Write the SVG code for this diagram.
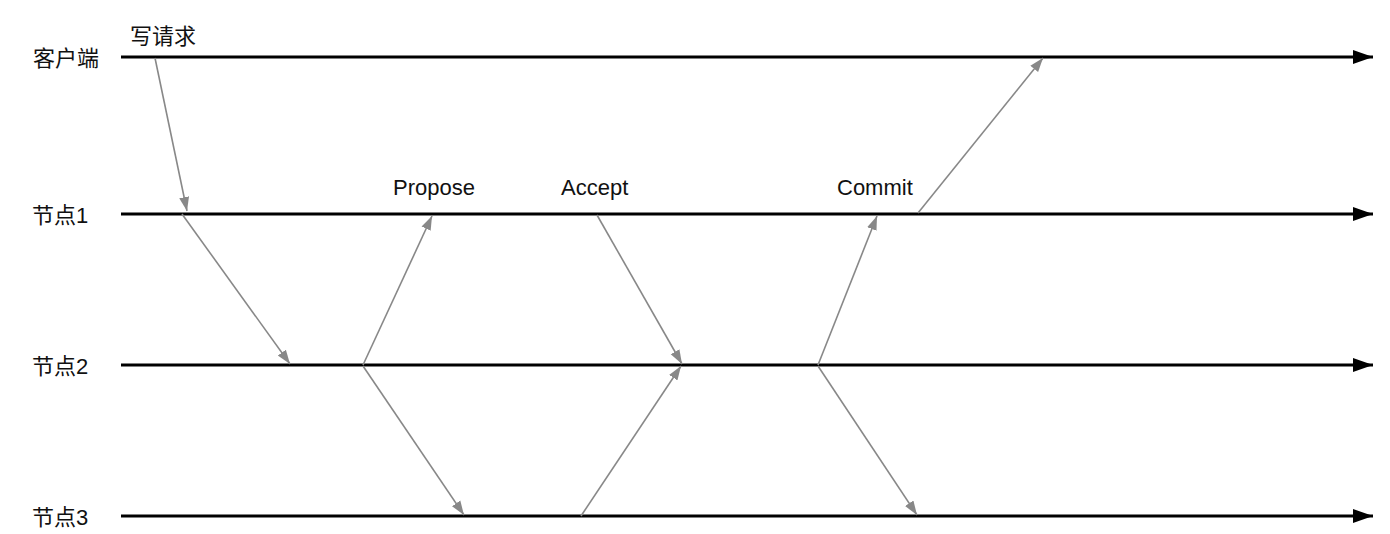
<svg xmlns="http://www.w3.org/2000/svg" width="1390" height="534" viewBox="0 0 1390 534">
<style>
.lbl{font-family:"Liberation Sans","Noto Sans CJK SC",sans-serif;font-size:22px;fill:#111}
.phase{font-family:"Liberation Sans","Noto Sans CJK SC",sans-serif;font-size:22px;fill:#111}
.tl{stroke:#000;stroke-width:3;fill:none}
.msg{stroke:#888;stroke-width:1.6;fill:none}
</style>
<defs>
<marker id="big" markerUnits="userSpaceOnUse" markerWidth="20" markerHeight="16" refX="20" refY="8" orient="auto" viewBox="0 0 20 16">
<path d="M0,1 L20,8 L0,15 z" fill="#000"/>
</marker>
<marker id="small" markerUnits="userSpaceOnUse" markerWidth="14" markerHeight="12" refX="14" refY="6" orient="auto" viewBox="0 0 14 12">
<path d="M0,1 L14,6 L0,11 z" fill="#888"/>
</marker>
</defs>
<rect width="1390" height="534" fill="#fff"/>
<g id="client">
<text class="lbl" x="33" y="66">客户端</text>
<line class="tl" x1="121" y1="57" x2="1373" y2="57" marker-end="url(#big)"/>
</g>
<g id="node1">
<text class="lbl" x="32" y="223">节点1</text>
<line class="tl" x1="121" y1="214" x2="1373" y2="214" marker-end="url(#big)"/>
</g>
<g id="node2">
<text class="lbl" x="32" y="374">节点2</text>
<line class="tl" x1="121" y1="365" x2="1373" y2="365" marker-end="url(#big)"/>
</g>
<g id="node3">
<text class="lbl" x="32" y="525">节点3</text>
<line class="tl" x1="121" y1="516" x2="1373" y2="516" marker-end="url(#big)"/>
</g>
<g id="labels">
<text class="lbl" x="130" y="44">写请求</text>
<text class="phase" x="393" y="195">Propose</text>
<text class="phase" x="561" y="195">Accept</text>
<text class="phase" x="837" y="195">Commit</text>
</g>
<g id="connectors">
<line class="msg" x1="155" y1="58" x2="187" y2="211" marker-end="url(#small)"/>
<line class="msg" x1="182" y1="214" x2="290" y2="364" marker-end="url(#small)"/>
<line class="msg" x1="363" y1="365" x2="432" y2="216" marker-end="url(#small)"/>
<line class="msg" x1="363" y1="366" x2="464" y2="515" marker-end="url(#small)"/>
<line class="msg" x1="597" y1="215" x2="682" y2="364" marker-end="url(#small)"/>
<line class="msg" x1="581" y1="516" x2="681" y2="366" marker-end="url(#small)"/>
<line class="msg" x1="818" y1="365" x2="877" y2="216" marker-end="url(#small)"/>
<line class="msg" x1="818" y1="366" x2="917" y2="515" marker-end="url(#small)"/>
<line class="msg" x1="918" y1="213" x2="1043" y2="58" marker-end="url(#small)"/>
</g>
</svg>
